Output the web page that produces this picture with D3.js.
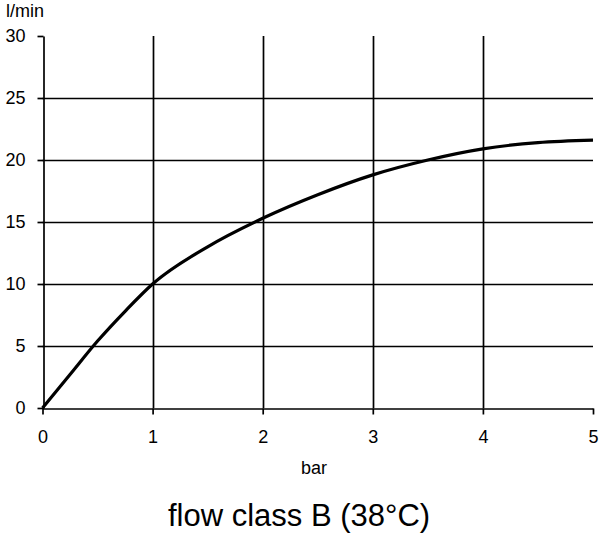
<!DOCTYPE html>
<html><head><meta charset="utf-8">
<script src="https://cdn.jsdelivr.net/npm/d3@7"></script>
<style>body{margin:0;background:#fff}svg{display:block}text{font-family:"Liberation Sans",Arial,sans-serif;fill:#000}</style>
</head><body>
<script>
const pressure = [0,0.25,0.5,0.75,1,1.5,2,2.5,3,3.5,4,4.5,5];
const flow = [0,2.7,5.4,7.8,10,13.0,15.3,17.2,18.8,20.0,20.9,21.4,21.6];
const xTicks = [0,1,2,3,4,5];
const yTicks = [0,5,10,15,20,25,30];
const xLabel = "bar", yLabel = "l/min", title = "flow class B (38°C)";

const W=600,H=533;
const svg=d3.select("body").append("svg").attr("width",W).attr("height",H);
const x=d3.scaleLinear().domain([0,5]).range([42.5,593]);
const y=d3.scaleLinear().domain([0,30]).range([408,36]);

// gridlines
svg.append("g").selectAll("line").data(yTicks.filter(d=>d>0&&d<30)).join("line")
 .attr("x1",x(0)).attr("x2",x(5)).attr("y1",d=>Math.round(y(d))+0.5).attr("y2",d=>Math.round(y(d))+0.5)
 .attr("stroke","#000").attr("stroke-width",1.7);
svg.append("g").selectAll("line").data(xTicks.filter(d=>d>0&&d<5)).join("line")
 .attr("x1",d=>Math.round(x(d))+0.5).attr("x2",d=>Math.round(x(d))+0.5).attr("y1",y(30)).attr("y2",y(0))
 .attr("stroke","#000").attr("stroke-width",1.7);

// axes
const gx=svg.append("g").attr("transform",`translate(0,${Math.round(y(0))+0.5})`)
 .call(d3.axisBottom(x).tickValues(xTicks).tickFormat(d3.format("d")).tickSize(6).tickPadding(16).tickSizeOuter(0));
const gy=svg.append("g").attr("transform",`translate(${Math.round(x(0))+0.5},0)`)
 .call(d3.axisLeft(y).tickValues(yTicks).tickFormat(d3.format("d")).tickSize(6).tickPadding(12).tickSizeOuter(0));
[gx,gy].forEach(g=>{
 g.attr("font-size",18).attr("font-family","Liberation Sans, Arial, sans-serif");
 g.select(".domain").attr("stroke","#000").attr("stroke-width",1.7);
 g.selectAll(".tick line").attr("stroke","#000").attr("stroke-width",1.7);
 g.selectAll(".tick text").attr("fill","#000");
});
gx.selectAll(".tick text").attr("dy","0.71em");

// curve
svg.append("path").datum(pressure.map((p,i)=>[p,flow[i]]))
 .attr("d",d3.line().x(d=>x(d[0])).y(d=>y(d[1])).curve(d3.curveMonotoneX))
 .attr("fill","none").attr("stroke","#000").attr("stroke-width",3.2);

svg.append("text").attr("x",314).attr("y",474).attr("text-anchor","middle").attr("font-size",18).text(xLabel);
svg.append("text").attr("x",6).attr("y",17).attr("font-size",18).text(yLabel);
svg.append("text").attr("x",299).attr("y",526).attr("text-anchor","middle").attr("font-size",31).text(title);
</script>
</body></html>
